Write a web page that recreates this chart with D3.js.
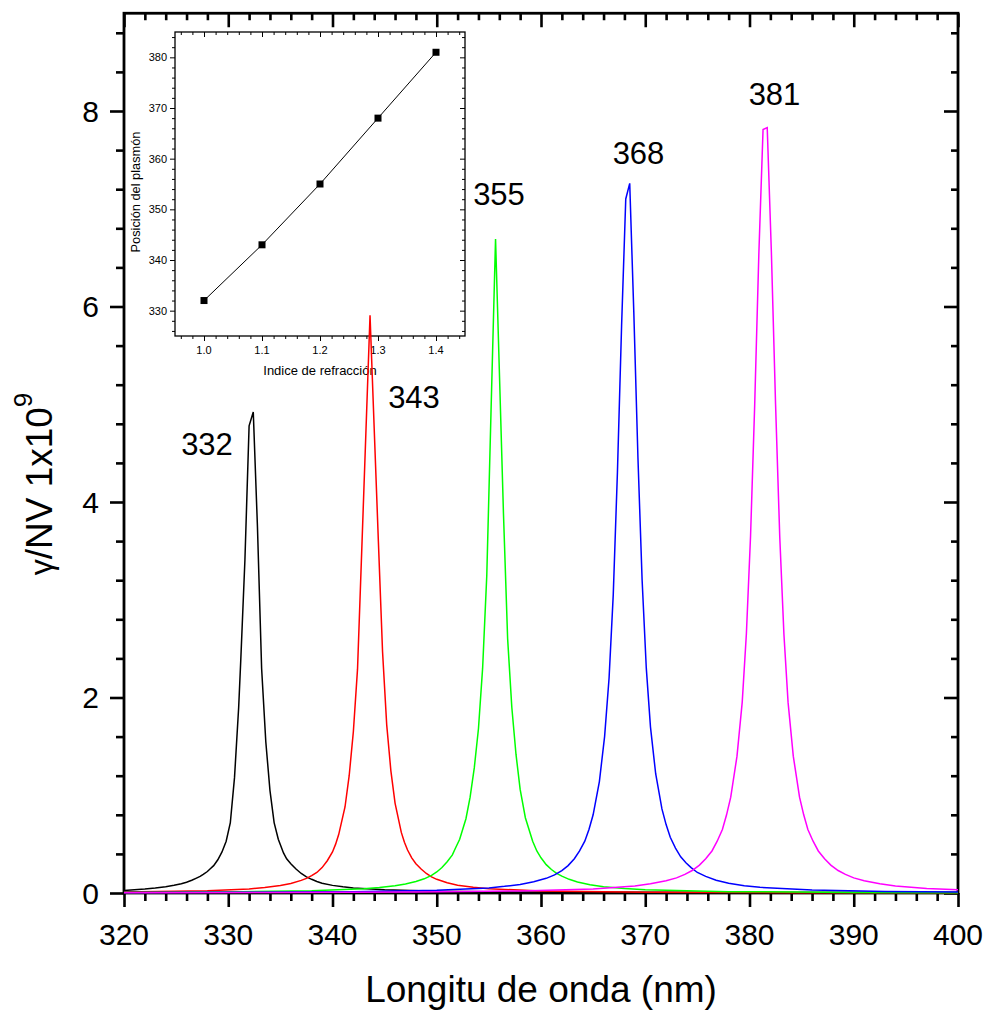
<!DOCTYPE html>
<html>
<head>
<meta charset="utf-8">
<script src="https://cdnjs.cloudflare.com/ajax/libs/d3/7.8.5/d3.min.js"></script>
<style>
body { margin: 0; background: #fff; }
text { font-family: "Liberation Sans", Arial, sans-serif; fill: #000; }
</style>
</head>
<body>
<div id="chart"></div>
<script>

// main plot: wavelength (nm) vs gamma/NV
var xTicks = [320, 330, 340, 350, 360, 370, 380, 390, 400];
var yTicks = [0, 2, 4, 6, 8];

// each curve as [nm, value]
var curve332 = [[320,0.025],[322,0.04],[323,0.05],[324,0.065],[324.8,0.08],[325.5,0.095],[326,0.11],[326.5,0.13],[326.9,0.15],[327.3,0.17],[327.6,0.19],[328,0.22],[328.3,0.25],[328.6,0.28],[329,0.34],[329.4,0.42],[329.8,0.53],[330.2,0.72],[330.6,1.18],[331,1.9],[331.2,2.38],[331.6,3.41],[332,4.78],[332.4,4.92],[332.8,3.75],[333.2,2.3],[333.6,1.55],[334,1.05],[334.4,0.72],[334.8,0.55],[335.3,0.41],[335.6,0.35],[336,0.3],[336.5,0.245],[337,0.2],[337.5,0.165],[338,0.14],[338.5,0.118],[339,0.1],[340,0.078],[341,0.063],[342,0.052],[345,0.033],[350,0.018],[360,0.008],[370,0.005],[385,0.003],[400,0.002]];

var curve343 = [[320,0.01],[328,0.023],[332,0.042],[333.5,0.056],[335,0.076],[336,0.098],[337,0.129],[337.5,0.15],[338,0.178],[338.5,0.21],[339,0.26],[339.5,0.33],[340,0.42],[340.3,0.5],[340.6,0.6],[341.2,0.88],[341.6,1.2],[342,1.65],[342.4,2.29],[342.8,3.49],[343.2,4.7],[343.6,5.91],[344,4.75],[344.4,3.6],[344.8,2.47],[345.2,1.72],[345.6,1.25],[346,0.92],[346.6,0.62],[346.9,0.52],[347.2,0.44],[347.6,0.36],[348,0.3],[348.5,0.245],[349,0.2],[349.5,0.165],[350,0.14],[351,0.105],[352,0.08],[353.5,0.058],[355,0.043],[360,0.021],[370,0.008],[385,0.003],[400,0.002]];

var curve355 = [[320,0.0055],[330,0.011],[338,0.022],[343,0.043],[344.5,0.056],[346,0.075],[347,0.093],[348,0.118],[348.8,0.145],[349.5,0.18],[350,0.215],[350.5,0.26],[351,0.32],[351.5,0.39],[351.8,0.46],[352.2,0.55],[352.8,0.76],[353.2,0.98],[353.6,1.28],[354,1.68],[354.4,2.3],[354.8,3.25],[355.2,4.9],[355.64,6.69],[356,5.36],[356.4,3.88],[356.8,2.6],[357.2,1.9],[357.6,1.42],[358,1.06],[358.5,0.77],[359.2,0.53],[359.6,0.43],[360,0.36],[360.5,0.29],[361,0.24],[361.5,0.2],[362,0.172],[362.7,0.14],[363.5,0.113],[364.7,0.085],[366,0.065],[368,0.046],[370,0.034],[378,0.014],[390,0.006],[400,0.0036]];

var curve368 = [[320,0.004],[332,0.007],[342,0.013],[350,0.028],[355,0.052],[356.5,0.068],[358,0.088],[359.3,0.115],[360.5,0.15],[361.3,0.185],[362,0.23],[362.6,0.28],[363.2,0.35],[363.7,0.43],[364.2,0.53],[364.6,0.65],[365,0.8],[365.6,1.14],[366.1,1.6],[366.53,2.2],[366.93,3.05],[367.33,4.3],[367.73,5.8],[368.13,7.1],[368.51,7.26],[368.9,5.95],[369.3,4.45],[369.7,3.2],[370.1,2.3],[370.5,1.7],[371,1.22],[371.6,0.86],[372,0.7],[372.4,0.57],[372.9,0.46],[373.4,0.37],[373.9,0.31],[374.4,0.26],[375,0.21],[375.8,0.17],[376.8,0.13],[378,0.1],[379.5,0.075],[381,0.058],[386,0.03],[393,0.015],[400,0.009]];

var curve381 = [[320,0.003],[335,0.0053],[348,0.01],[358,0.021],[365,0.042],[369,0.072],[370.5,0.095],[372,0.125],[373,0.155],[373.8,0.19],[374.5,0.23],[375.2,0.285],[375.8,0.35],[376.4,0.43],[376.9,0.53],[377.4,0.65],[377.8,0.8],[378.2,0.98],[378.8,1.4],[379.3,1.95],[379.7,2.65],[380.1,3.65],[380.5,5.0],[380.9,6.55],[381.3,7.81],[381.7,7.83],[382.1,6.55],[382.5,5.0],[382.9,3.65],[383.3,2.65],[383.7,1.95],[384.2,1.4],[384.8,0.98],[385.2,0.8],[385.6,0.65],[386.1,0.53],[386.6,0.43],[387.2,0.35],[387.8,0.285],[388.5,0.23],[389.2,0.19],[390,0.155],[391,0.125],[392.5,0.095],[394,0.072],[397,0.047],[400,0.033]];

var curves = [curve332, curve343, curve355, curve368, curve381];
var colors = ["#000000", "#ff0000", "#00ff00", "#0000ff", "#ff00ff"];
var peakLabels = ["332", "343", "355", "368", "381"];

// inset: refractive index vs plasmon position
var insetN = [1.0, 1.1, 1.2, 1.3, 1.4];
var insetPos = [332, 343, 355, 368, 381];
var insetXTicks = [1.0, 1.1, 1.2, 1.3, 1.4];
var insetYTicks = [330, 340, 350, 360, 370, 380];

var W = 989, H = 1014;
var svg = d3.select("#chart").append("svg")
  .attr("width", W)
  .attr("height", H);

var x = d3.scaleLinear().domain([320, 400]).range([124, 958]);
var y = d3.scaleLinear().domain([0, 9]).range([893, 13.25]);

var xMinor = d3.range(320, 401, 2).filter(function(d){ return d % 10 != 0; });
var yMinor = d3.range(0, 9.01, 0.4).filter(function(d){ return Math.abs(d/2 - Math.round(d/2)) > 0.01; });

function tickLines(g, axis, vals, size, sw) {
  g.call(axis.tickValues(vals).tickSize(size).tickFormat(""));
  g.select(".domain").remove();
  g.selectAll("line").attr("stroke", "#000").attr("stroke-width", sw);
}

// bottom / top ticks
tickLines(svg.append("g").attr("transform", "translate(0,893)"), d3.axisBottom(x), xTicks, 14, 2.6);
tickLines(svg.append("g").attr("transform", "translate(0,893)"), d3.axisBottom(x), xMinor, 8, 2.6);
tickLines(svg.append("g").attr("transform", "translate(0,13.25)"), d3.axisBottom(x), xTicks, 14, 2.6);
tickLines(svg.append("g").attr("transform", "translate(0,13.25)"), d3.axisBottom(x), xMinor, 7, 2.6);
// left / right ticks
tickLines(svg.append("g").attr("transform", "translate(124,0)"), d3.axisLeft(y), yTicks, 14, 2.6);
tickLines(svg.append("g").attr("transform", "translate(124,0)"), d3.axisLeft(y), yMinor, 8, 2.6);
tickLines(svg.append("g").attr("transform", "translate(958,0)"), d3.axisLeft(y), yTicks, 14, 2.6);
tickLines(svg.append("g").attr("transform", "translate(958,0)"), d3.axisLeft(y), yMinor, 7, 2.6);

svg.append("rect")
  .attr("x", x(320)).attr("y", y(9))
  .attr("width", x(400) - x(320)).attr("height", y(0) - y(9))
  .attr("fill", "none").attr("stroke", "#000").attr("stroke-width", 2.8);

svg.selectAll(".xlab").data(xTicks).enter().append("text")
  .attr("x", function(d){ return x(d); })
  .attr("y", 945)
  .attr("text-anchor", "middle")
  .style("font-size", "30px")
  .text(function(d){ return d; });

svg.selectAll(".ylab").data(yTicks).enter().append("text")
  .attr("x", 99)
  .attr("y", function(d){ return y(d) + 10.5; })
  .attr("text-anchor", "end")
  .style("font-size", "30px")
  .text(function(d){ return d; });

svg.append("text")
  .attr("x", (x(320) + x(400)) / 2)
  .attr("y", 1002)
  .attr("text-anchor", "middle")
  .style("font-size", "37px")
  .text("Longitu de onda (nm)");

var ytitle = svg.append("text")
  .attr("transform", "translate(52,484) rotate(-90)")
  .attr("text-anchor", "middle")
  .style("font-size", "37px");
ytitle.append("tspan").style("font-size", "32px").text("\u03b3");
ytitle.append("tspan").text("/NV 1x10");
ytitle.append("tspan").attr("dy", -20).style("font-size", "26px").text("9");

// inset
var xi = d3.scaleLinear().domain([0.95, 1.45]).range([175, 465]);
var yi = d3.scaleLinear().domain([325, 385]).range([336, 32]);
var xiMinor = d3.range(0.96, 1.45, 0.02).filter(function(d){ return Math.abs(d*10 - Math.round(d*10)) > 0.01; });
var yiMinor = d3.range(326, 385, 2).filter(function(d){ return d % 10 != 0; });

var inset = svg.append("g");
inset.append("rect")
  .attr("x", 175).attr("y", 32).attr("width", 290).attr("height", 304)
  .attr("fill", "#fff");

tickLines(inset.append("g").attr("transform", "translate(0,336)"), d3.axisBottom(xi), insetXTicks, 5, 1);
tickLines(inset.append("g").attr("transform", "translate(0,336)"), d3.axisBottom(xi), xiMinor, 3, 1);
tickLines(inset.append("g").attr("transform", "translate(0,32)"), d3.axisBottom(xi), insetXTicks, 5, 1);
tickLines(inset.append("g").attr("transform", "translate(0,32)"), d3.axisBottom(xi), xiMinor, 3, 1);
tickLines(inset.append("g").attr("transform", "translate(175,0)"), d3.axisLeft(yi), insetYTicks, 5, 1);
tickLines(inset.append("g").attr("transform", "translate(175,0)"), d3.axisLeft(yi), yiMinor, 3, 1);
tickLines(inset.append("g").attr("transform", "translate(465,0)"), d3.axisLeft(yi), insetYTicks, 5, 1);
tickLines(inset.append("g").attr("transform", "translate(465,0)"), d3.axisLeft(yi), yiMinor, 3, 1);

inset.append("rect")
  .attr("x", 175).attr("y", 32).attr("width", 290).attr("height", 304)
  .attr("fill", "none").attr("stroke", "#000").attr("stroke-width", 1.3);

inset.selectAll(".ixl").data(insetXTicks).enter().append("text")
  .attr("x", function(d){ return xi(d); })
  .attr("y", 354)
  .attr("text-anchor", "middle")
  .style("font-size", "11px")
  .text(function(d){ return d3.format(".1f")(d); });

inset.selectAll(".iyl").data(insetYTicks).enter().append("text")
  .attr("x", 167)
  .attr("y", function(d){ return yi(d) + 4; })
  .attr("text-anchor", "end")
  .style("font-size", "11px")
  .text(function(d){ return d; });

inset.append("text")
  .attr("x", 320).attr("y", 375)
  .attr("text-anchor", "middle")
  .style("font-size", "13px")
  .text("Indice de refracción");

inset.append("text")
  .attr("transform", "translate(140,192) rotate(-90)")
  .attr("text-anchor", "middle")
  .style("font-size", "12.8px")
  .text("Posición del plasmón");

var insetPts = insetN.map(function(n, i){ return [n, insetPos[i]]; });
inset.append("path")
  .datum(insetPts)
  .attr("fill", "none").attr("stroke", "#000").attr("stroke-width", 1)
  .attr("d", d3.line().x(function(d){ return xi(d[0]); }).y(function(d){ return yi(d[1]); }));

inset.selectAll(".mk").data(insetPts).enter().append("rect")
  .attr("x", function(d){ return xi(d[0]) - 3.5; })
  .attr("y", function(d){ return yi(d[1]) - 3.5; })
  .attr("width", 7).attr("height", 7)
  .attr("fill", "#000");

// curves
var line = d3.line()
  .x(function(d){ return x(d[0]); })
  .y(function(d){ return y(d[1]); });

curves.forEach(function(c, i){
  svg.append("path")
    .datum(c)
    .attr("fill", "none")
    .attr("stroke", colors[i])
    .attr("stroke-width", 1.5)
    .attr("stroke-linejoin", "miter")
    .attr("d", line);
});

// peak labels
var labelPos = [[207, 455], [414, 408], [499, 205], [638.5, 164], [774.5, 105]];
peakLabels.forEach(function(t, i){
  svg.append("text")
    .attr("x", labelPos[i][0])
    .attr("y", labelPos[i][1])
    .attr("text-anchor", "middle")
    .style("font-size", "31px")
    .text(t);
});

</script>
</body>
</html>
